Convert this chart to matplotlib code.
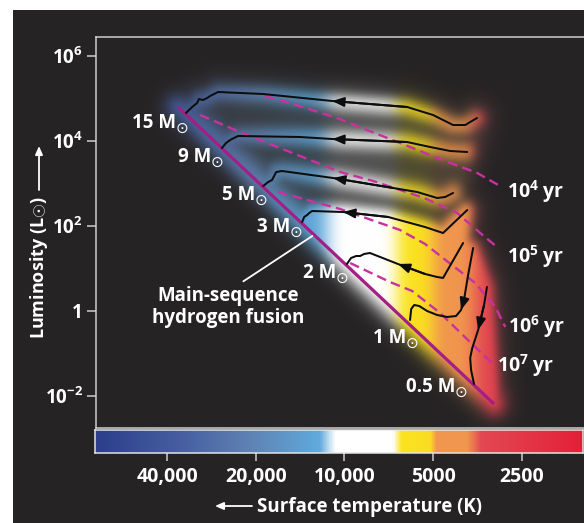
import numpy as np
import matplotlib
matplotlib.use("Agg")
import matplotlib.pyplot as plt
from matplotlib.colors import LinearSegmentedColormap
from matplotlib.path import Path
from matplotlib.patches import FancyArrowPatch, Rectangle

# ---------------- data: log10(T / K) and log10(L / Lsun) ----------------
ms_logT = [4.565, 3.493]
ms_logL = [4.800, -2.188]

track_labels = ["15", "9", "5", "3", "2", "1", "0.5"]

t15_logT = [3.551, 3.591, 3.632, 3.700, 3.788, 4.042, 4.276, 4.429, 4.456, 4.466, 4.480, 4.494, 4.500, 4.517, 4.538]
t15_logL = [4.541, 4.376, 4.376, 4.612, 4.800, 4.941, 5.106, 5.153, 5.059, 5.012, 4.965, 4.988, 4.894, 4.800, 4.659]

t9_logT = [3.584, 3.642, 3.710, 3.788, 4.042, 4.151, 4.361, 4.375, 4.388, 4.402, 4.416]
t9_logL = [3.741, 3.765, 3.859, 3.976, 4.047, 4.094, 4.118, 4.071, 4.024, 3.953, 3.835]

t5_logT = [3.632, 3.659, 3.686, 3.754, 3.835, 4.039, 4.212, 4.232, 4.239, 4.246, 4.259, 4.276]
t5_logL = [2.777, 2.682, 2.659, 2.800, 2.894, 3.129, 3.294, 3.271, 3.176, 3.082, 3.035, 2.941]

t3_logT = [3.584, 3.666, 3.727, 3.852, 4.005, 4.110, 4.120, 4.127, 4.137, 4.144]
t3_logL = [2.376, 1.835, 1.976, 2.212, 2.329, 2.353, 2.306, 2.259, 2.212, 2.094]

t2_logT = [3.598, 3.666, 3.686, 3.727, 3.819, 3.914, 3.934, 3.947, 3.961, 3.978, 3.992]
t2_logL = [1.600, 0.777, 0.800, 0.871, 1.106, 1.365, 1.341, 1.294, 1.294, 1.247, 1.106]

t1_logT = [3.564, 3.581, 3.595, 3.605, 3.622, 3.652, 3.686, 3.720, 3.747, 3.764, 3.774, 3.778]
t1_logL = [1.482, 0.847, 0.259, 0.024, -0.118, -0.141, -0.094, 0.000, 0.118, 0.141, 0.047, -0.212]

t05_logT = [3.517, 3.527, 3.547, 3.567, 3.574, 3.571, 3.561]
t05_logL = [0.565, 0.141, -0.447, -0.871, -1.106, -1.388, -1.718]

iso_labels = [r"10$^{4}$ yr", r"10$^{5}$ yr", r"10$^{6}$ yr", r"10$^{7}$ yr"]
iso4_logT = [4.270, 4.185, 4.025, 3.958, 3.812, 3.676, 3.550, 3.479]
iso4_logL = [5.059, 4.894, 4.541, 4.353, 3.953, 3.576, 3.247, 2.965]
iso5_logT = [4.490, 4.355, 4.185, 4.015, 3.903, 3.730, 3.618, 3.540, 3.479]
iso5_logL = [4.612, 4.212, 3.741, 3.271, 3.059, 2.659, 2.306, 1.835, 1.482]
iso6_logT = [4.226, 4.015, 3.812, 3.727, 3.649, 3.557, 3.489, 3.455]
iso6_logL = [2.800, 2.400, 1.906, 1.577, 1.153, 0.659, 0.094, -0.377]
iso7_logT = [3.981, 3.846, 3.771, 3.676, 3.557, 3.500]
iso7_logL = [1.129, 0.682, 0.471, -0.047, -0.847, -1.224]

xtick_T = [40000, 20000, 10000, 5000, 2500]
xtick_labels = ["40,000", "20,000", "10,000", "5000", "2500"]
ytick_logL = [6, 4, 2, 0, -2]
ytick_labels = [r"10$^{6}$", r"10$^{4}$", r"10$^{2}$", "1", r"10$^{-2}$"]

# temperature colour scale: log10 T and colour
scale_logT = [3.191, 3.534, 3.581, 3.686, 3.707, 3.805, 3.835, 4.032, 4.083, 4.117, 4.321, 4.558, 4.846]
scale_rgb = [(228, 32, 56), (226, 72, 82), (240, 150, 78), (240, 150, 78), (250, 220, 35), (250, 228, 30),
             (255, 255, 255), (255, 255, 255), (100, 170, 220), (95, 165, 215), (95, 130, 180),
             (70, 95, 160), (44, 62, 140)]

# ---------------- style / layout ----------------
plt.rcParams['font.family'] = ['Open Sans', 'DejaVu Sans']
plt.rcParams['font.weight'] = 'bold'
plt.rcParams['mathtext.fontset'] = 'custom'
plt.rcParams['mathtext.rm'] = 'Open Sans:bold'
plt.rcParams['mathtext.it'] = 'Open Sans:bold'
plt.rcParams['mathtext.bf'] = 'Open Sans:bold'
plt.rcParams['mathtext.default'] = 'rm'

W, H = 584, 523
BG = np.array([38, 35, 36]) / 255.0
FRAME = '#d2d2d2'
MS_COL = '#a41e86'
ISO_COL = '#c8329f'
PT = 0.72  # points per pixel at 100 dpi
SUN = "\u2299"


def fx(px):
    return px / W


def fy(py):
    return 1 - py / H


fig = plt.figure(figsize=(W / 100, H / 100), dpi=100, facecolor='white')
fig.add_artist(Rectangle((fx(13), 0), 1 - fx(13), fy(10), transform=fig.transFigure,
                         facecolor=BG, edgecolor='none', zorder=-10))

X0, X1 = 4.843, 3.188
Y0, Y1 = -2.753, 6.447
ax = fig.add_axes([fx(96), fy(428), fx(584) - fx(96), fy(37) - fy(428)])
ax.set_facecolor(BG)

cmap = LinearSegmentedColormap.from_list(
    'teff', [((t - scale_logT[0]) / (scale_logT[-1] - scale_logT[0]), tuple(c / 255 for c in rgb))
             for t, rgb in zip(scale_logT, scale_rgb)])


def cnorm(t):
    return np.clip((np.asarray(t) - scale_logT[0]) / (scale_logT[-1] - scale_logT[0]), 0, 1)


# ---------------- glow background built from the tracks ----------------
nx, ny = 488, 391
gx, gy = np.meshgrid(np.arange(nx) + 0.5, np.arange(ny) + 0.5)
P = np.column_stack([gx.ravel(), gy.ravel()])


def to_px(lt, ll):
    lt = np.asarray(lt, float)
    ll = np.asarray(ll, float)
    return np.column_stack([(lt - X0) / (X1 - X0) * nx, (Y1 - ll) / (Y1 - Y0) * ny])


def poly_dist(pts):
    d = np.full(len(P), np.inf)
    for a, b in zip(pts[:-1], pts[1:]):
        ab = b - a
        t = np.clip(((P - a) @ ab) / (ab @ ab + 1e-9), 0, 1)
        q = a + t[:, None] * ab
        d = np.minimum(d, np.hypot(P[:, 0] - q[:, 0], P[:, 1] - q[:, 1]))
    return d


def region(lt, ll, sigma):
    pts = to_px(lt + [lt[0]], ll + [ll[0]])
    inside = Path(pts).contains_points(P)
    d = poly_dist(pts)
    return np.where(inside, 1.0, np.exp(-(d / sigma) ** 2))


def gauss_kernel(s):
    r = int(3 * s) + 1
    k = np.exp(-0.5 * (np.arange(-r, r + 1) / s) ** 2)
    return k / k.sum(), r


def blur2d(a, s):
    k, r = gauss_kernel(s)
    a = np.pad(a, r, mode='edge')
    a = np.apply_along_axis(lambda v: np.convolve(v, k, mode='valid'), 0, a)
    a = np.apply_along_axis(lambda v: np.convolve(v, k, mode='valid'), 1, a)
    return a


env_T = [ms_logT[0]] + t15_logT[::-1] + [t9_logT[0], t5_logT[0], t3_logT[0], t2_logT[0],
                                         t1_logT[0], t05_logT[0], ms_logT[1]]
env_L = [ms_logL[0]] + t15_logL[::-1] + [t9_logL[0], t5_logL[0], t3_logL[0], t2_logL[0],
                                         t1_logL[0], t05_logL[0], ms_logL[1]]
env = region(env_T, env_L, 18.0)

full_T = t3_logT + [ms_logT[1], t05_logT[0], t1_logT[0], t2_logT[0]]
full_L = t3_logL + [ms_logL[1], t05_logL[0], t1_logL[0], t2_logL[0]]
prox = region(full_T, full_L, 9.0)
for lt, ll in [(t15_logT, t15_logL), (t9_logT, t9_logL), (t5_logT, t5_logL)]:
    prox = np.maximum(prox, 0.8 * np.exp(-(poly_dist(to_px(lt, ll)) / 10.0) ** 2))
prox = np.maximum(prox, 0.85 * np.exp(-(poly_dist(to_px(ms_logT, ms_logL)) / 16.0) ** 2))

env = blur2d(env.reshape(ny, nx), 4.0)[..., None]
prox = blur2d(prox.reshape(ny, nx), 3.0)[..., None]

# horizontally softened temperature colours
k, r = gauss_kernel(7.0)
xs_ext = X0 + (np.arange(-r, nx + r) + 0.5) / nx * (X1 - X0)
col_ext = cmap(cnorm(xs_ext))[:, :3]
col = np.stack([np.convolve(col_ext[:, c], k, mode='valid') for c in range(3)], axis=1)[None, :, :]

between = 0.14 * col + 0.17
img = BG * (1 - env) + env * (col * prox + between * (1 - prox))
ax.imshow(np.clip(img, 0, 1), extent=(X0, X1, Y0, Y1), aspect='auto', origin='upper',
          interpolation='bilinear', zorder=0)

# ---------------- isochrones, main sequence, tracks ----------------
isos = [(iso4_logT, iso4_logL), (iso5_logT, iso5_logL), (iso6_logT, iso6_logL), (iso7_logT, iso7_logL)]
iso_lw = 1.7
for lt, ll in isos:
    ax.plot(lt, ll, color=ISO_COL, lw=iso_lw, dashes=(7.0 / iso_lw, 3.8 / iso_lw), zorder=2)

ax.plot(ms_logT, ms_logL, color=MS_COL, lw=2.3, solid_capstyle='butt', zorder=3)

tracks = [(t15_logT, t15_logL), (t9_logT, t9_logL), (t5_logT, t5_logL), (t3_logT, t3_logL),
          (t2_logT, t2_logL), (t1_logT, t1_logL), (t05_logT, t05_logL)]
arrow_index = [5, 4, 5, 4, 4, 3, 2]
for (lt, ll), ai in zip(tracks, arrow_index):
    ax.plot(lt, ll, color='#0d0d0d', lw=1.45, solid_joinstyle='round', solid_capstyle='round', zorder=4)
    ax.annotate('', xy=(lt[ai], ll[ai]), xytext=(lt[ai - 1], ll[ai - 1]),
                arrowprops=dict(arrowstyle='-|>,head_length=0.7,head_width=0.28', mutation_scale=10,
                                color='#0d0d0d', lw=1.45, shrinkA=0, shrinkB=0), zorder=5)

# mass labels (right edge / baseline offsets in pixels from each track's main-sequence end)
mass_off = [(2, 15), (1, 14), (4, 14), (0, 10), (1, 14), (8, 23), (-7, 8)]
for (lt, ll), name, (dx, dy) in zip(tracks, track_labels, mass_off):
    ax.annotate(SUN, xy=(lt[-1], ll[-1]), xytext=(dx * PT, -(dy + 5) * PT),
                textcoords='offset points', ha='right', va='baseline', color='white',
                fontsize=11, fontweight='normal', family='DejaVu Sans', zorder=6)
    ax.annotate(name + " M", xy=(lt[-1], ll[-1]), xytext=((dx - 12) * PT, -dy * PT),
                textcoords='offset points', ha='right', va='baseline', color='white',
                fontsize=13.5, fontweight='bold', zorder=6)

iso_off = [(9, 13), (9, 15), (3, 6), (5, 9)]
for (lt, ll), lab, (dx, dy) in zip(isos, iso_labels, iso_off):
    ax.annotate(lab, xy=(lt[-1], ll[-1]), xytext=(dx * PT, -dy * PT), textcoords='offset points',
                ha='left', va='baseline', color='white', fontsize=14, fontweight='bold', zorder=6)

# main-sequence annotation
ptr_T = 4.1035
ptr_L = np.interp(ptr_T, ms_logT[::-1], ms_logL[::-1])
ax.annotate("Main-sequence\nhydrogen fusion", xy=(ptr_T, ptr_L), xycoords='data',
            xytext=(228, H - 307), textcoords='figure pixels', ha='center', va='center',
            multialignment='center', linespacing=1.08, color='white', fontsize=13.5, fontweight='bold',
            arrowprops=dict(arrowstyle='-', color='white', lw=1.3, shrinkA=3, shrinkB=1.5,
                            relpos=(0.55, 1.0)), zorder=6)

ax.set_xlim(X0, X1)
ax.set_ylim(Y0, Y1)
ax.set_xticks([])
ax.set_yticks(ytick_logL)
ax.set_yticklabels(ytick_labels)
ax.tick_params(axis='y', direction='out', length=9 * PT, width=1.5 * PT, color=FRAME,
               labelcolor='white', labelsize=13.5, pad=3)
for s in ['left', 'top', 'bottom']:
    ax.spines[s].set_color(FRAME)
    ax.spines[s].set_linewidth(1.5 * PT)
ax.spines['right'].set_visible(False)

# ---------------- temperature colour bar ----------------
CX0, CX1 = 4.8463, 3.1910
cax = fig.add_axes([fx(95), fy(453), fx(583) - fx(95), fy(430) - fy(453)])
bar_t = np.linspace(CX0, CX1, 800)
cax.imshow(cmap(cnorm(bar_t))[None, :, :3], extent=(CX0, CX1, 0, 1), aspect='auto',
           interpolation='bilinear')
cax.set_xlim(CX0, CX1)
cax.set_ylim(0, 1)
cax.set_yticks([])
cax.set_xticks(np.log10(xtick_T))
cax.set_xticklabels(xtick_labels)
cax.tick_params(axis='x', direction='out', length=8 * PT, width=1.5 * PT, color=FRAME,
                labelcolor='white', labelsize=14, pad=4)
for s in cax.spines.values():
    s.set_color('#e6e6e6')
    s.set_linewidth(1.5 * PT)

# ---------------- axis titles with arrows ----------------
fig.text(fx(39), fy(268), r"Luminosity (L$\odot$)", rotation=90, ha='center', va='center',
         color='white', fontsize=13, fontweight='bold')
fig.add_artist(FancyArrowPatch((fx(39), fy(190)), (fx(39), fy(146)), transform=fig.transFigure,
                               arrowstyle='-|>,head_length=5,head_width=2.2', color='white', lw=1.3,
                               shrinkA=0, shrinkB=0))
fig.text(fx(257), fy(512), "Surface temperature (K)", ha='left', va='baseline',
         color='white', fontsize=13.5, fontweight='bold')
fig.add_artist(FancyArrowPatch((fx(252), fy(506)), (fx(215), fy(506)), transform=fig.transFigure,
                               arrowstyle='-|>,head_length=5,head_width=2.2', color='white', lw=1.3,
                               shrinkA=0, shrinkB=0))

fig.savefig('out.png', dpi=100, facecolor='white')
